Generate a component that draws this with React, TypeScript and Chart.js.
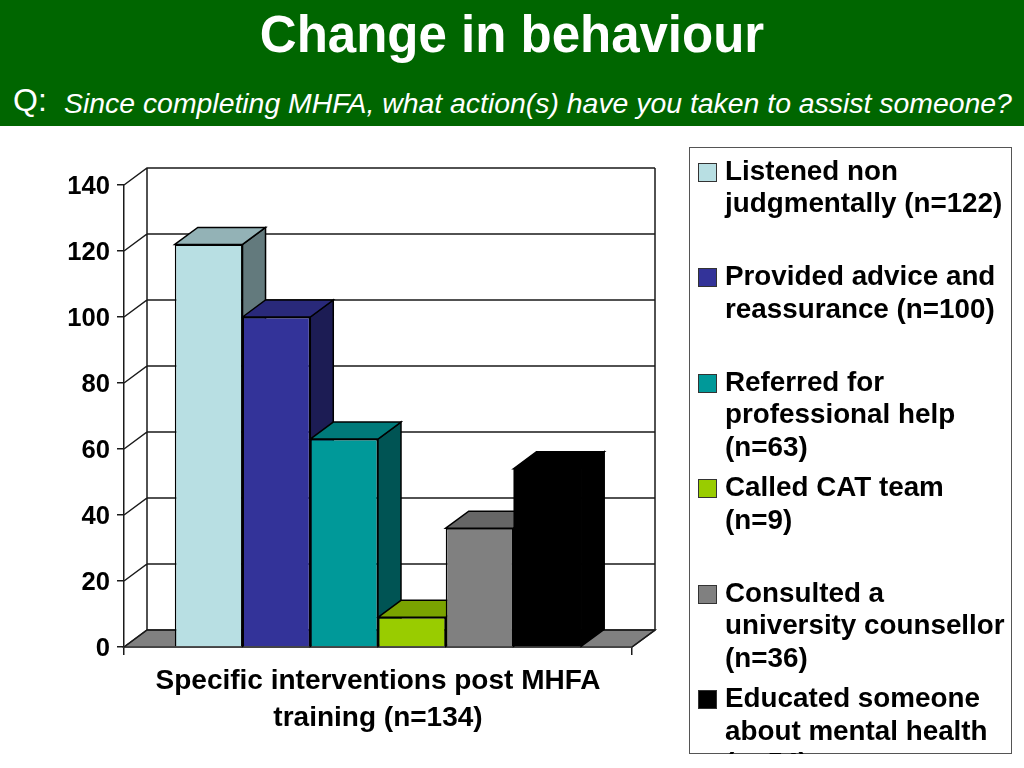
import React, { useEffect, useRef } from "react";
import { Chart, registerables } from "chart.js";

Chart.register(...registerables);

const titleText = "Change in behaviour";
const questionPrefix = "Q:";
const questionText = "Since completing MHFA, what action(s) have you taken to assist someone?";

const categories = [["Specific interventions post MHFA", "training (n=134)"]];
const yTicksMax = 140;
const yTicksStep = 20;

const seriesLabels = [
  "Listened non judgmentally (n=122)",
  "Provided advice and reassurance (n=100)",
  "Referred for professional help (n=63)",
  "Called CAT team (n=9)",
  "Consulted a university counsellor (n=36)",
  "Educated someone about mental health (n=54)",
];
const legendLines = [
  ["Listened non", "judgmentally (n=122)"],
  ["Provided advice and", "reassurance (n=100)"],
  ["Referred for", "professional help", "(n=63)"],
  ["Called CAT team", "(n=9)"],
  ["Consulted a", "university counsellor", "(n=36)"],
  ["Educated someone", "about mental health", "(n=54)"],
];
const seriesValues = [122, 100, 63, 9, 36, 54];
const frontColors = ["#B8DFE3", "#333399", "#009999", "#99CC00", "#808080", "#000000"];
const topColors = ["#93B2B6", "#29297A", "#007A7A", "#7AA300", "#666666", "#000000"];
const sideColors = ["#637A7D", "#1C1C54", "#005454", "#526E00", "#454545", "#000000"];

const DX = 23;
const DY = 17;
const FONT = '"Liberation Sans", Arial, Helvetica, sans-serif';

const poly = (ctx: CanvasRenderingContext2D, pts: number[][], fill: string | null, stroke: string) => {
  ctx.beginPath();
  pts.forEach((p, i) => (i ? ctx.lineTo(p[0], p[1]) : ctx.moveTo(p[0], p[1])));
  ctx.closePath();
  if (fill) {
    ctx.fillStyle = fill;
    ctx.fill();
  }
  ctx.strokeStyle = stroke;
  ctx.stroke();
};

const box3d = {
  id: "box3d",
  beforeDatasetsDraw(chart: any) {
    const { ctx, chartArea: a, scales } = chart;
    const y = scales.y;
    ctx.save();
    ctx.lineWidth = 1.5;
    // floor
    poly(ctx, [[a.left, a.bottom], [a.left + DX, a.bottom - DY], [a.right + DX, a.bottom - DY], [a.right, a.bottom]], "#808080", "#333333");
    // walls
    ctx.strokeStyle = "#1a1a1a";
    ctx.beginPath();
    ctx.moveTo(a.left + DX, a.top - DY);
    ctx.lineTo(a.left + DX, a.bottom - DY);
    ctx.moveTo(a.right + DX, a.top - DY);
    ctx.lineTo(a.right + DX, a.bottom - DY);
    ctx.lineTo(a.right, a.bottom);
    y.ticks.forEach((t: any) => {
      const py = y.getPixelForValue(t.value);
      ctx.moveTo(a.left, py);
      ctx.lineTo(a.left + DX, py - DY);
      ctx.lineTo(a.right + DX, py - DY);
    });
    ctx.stroke();
    // sides and tops of the bars, left to right
    ctx.lineWidth = 1.5;
    chart.data.datasets.forEach((_: any, i: number) => {
      const bar = chart.getDatasetMeta(i).data[0];
      const l = bar.x - bar.width / 2;
      const r = bar.x + bar.width / 2;
      poly(ctx, [[r, bar.y], [r + DX, bar.y - DY], [r + DX, bar.base - DY], [r, bar.base]], sideColors[i], "#000000");
      poly(ctx, [[l, bar.y], [l + DX, bar.y - DY], [r + DX, bar.y - DY], [r, bar.y]], topColors[i], "#000000");
    });
    ctx.restore();
  },
};

export default function App() {
  const ref = useRef<HTMLCanvasElement>(null);
  useEffect(() => {
    const chart = new Chart(ref.current!, {
      type: "bar",
      plugins: [box3d],
      data: {
        labels: categories as any,
        datasets: seriesLabels.map((label, i) => ({
          label,
          data: [seriesValues[i]],
          backgroundColor: frontColors[i],
          borderColor: "#000000",
          borderWidth: frontColors[i] === "#000000" ? 0 : 1.5,
          barPercentage: 1,
          categoryPercentage: 0.8,
        })),
      },
      options: {
        responsive: false,
        animation: false,
        layout: { padding: { left: 0, right: 392, top: 185, bottom: 0 } },
        plugins: { legend: { display: false }, title: { display: false }, tooltip: { enabled: false } },
        scales: {
          x: {
            afterFit: (s: any) => { s.height = 121; },
            grid: { drawOnChartArea: false, tickLength: 8, color: "#1a1a1a", lineWidth: 1.5 },
            border: { color: "#000000", width: 1.5 },
            ticks: {
              color: "#000000",
              padding: 8,
              maxRotation: 0,
              autoSkip: false,
              font: { family: FONT, size: 28, weight: "bold", lineHeight: 1.32 },
            },
          },
          y: {
            min: 0,
            max: yTicksMax,
            afterFit: (s: any) => { s.width = 124; },
            grid: { drawOnChartArea: false, tickLength: 7, color: "#1a1a1a", lineWidth: 1.5 },
            border: { color: "#1a1a1a", width: 1.5 },
            ticks: {
              stepSize: yTicksStep,
              color: "#000000",
              padding: 7,
              labelOffset: 2,
              font: { family: FONT, size: 25.6, weight: "bold" },
            },
          },
        },
      },
    });
    return () => chart.destroy();
  }, []);

  return (
    <div style={{ position: "absolute", left: 0, top: 0, width: 1024, height: 768, overflow: "hidden", background: "#fff", fontFamily: FONT }}>
      <div style={{ position: "absolute", left: 0, top: 0, width: 1024, height: 126, background: "#006600", color: "#fff" }}>
        <div style={{ position: "absolute", left: 0, width: 1024, top: 7, textAlign: "center", fontWeight: "bold", fontSize: 51, lineHeight: "56px", whiteSpace: "nowrap" }}>{titleText}</div>
        <div style={{ position: "absolute", left: 13, top: 81, fontSize: 32, lineHeight: "38px" }}>{questionPrefix}</div>
        <div style={{ position: "absolute", left: 64, top: 86, fontSize: 28.4, lineHeight: "34px", fontStyle: "italic", whiteSpace: "nowrap" }}>{questionText}</div>
      </div>
      <canvas ref={ref} width={1024} height={768} style={{ position: "absolute", left: 0, top: 0, width: 1024, height: 768 }} />
      <div style={{ position: "absolute", left: 689, top: 147, width: 320.5, height: 605, border: "1.5px solid #555" }} />
      <div style={{ position: "absolute", left: 690, top: 148, width: 334, height: 606, overflow: "hidden" }}>
        {legendLines.map((lines, i) => (
          <div key={i} style={{ position: "absolute", left: 0, top: 6.5 + i * 105.5 }}>
            <div style={{ position: "absolute", left: 8, top: 8, width: 19, height: 19, background: frontColors[i], border: "1px solid #333", boxSizing: "border-box" }} />
            <div style={{ position: "absolute", left: 35, top: 0, fontSize: 27.8, lineHeight: "32.7px", fontWeight: "bold", color: "#000", whiteSpace: "nowrap" }}>
              {lines.map((l, j) => <div key={j}>{l}</div>)}
            </div>
          </div>
        ))}
      </div>
    </div>
  );
}
